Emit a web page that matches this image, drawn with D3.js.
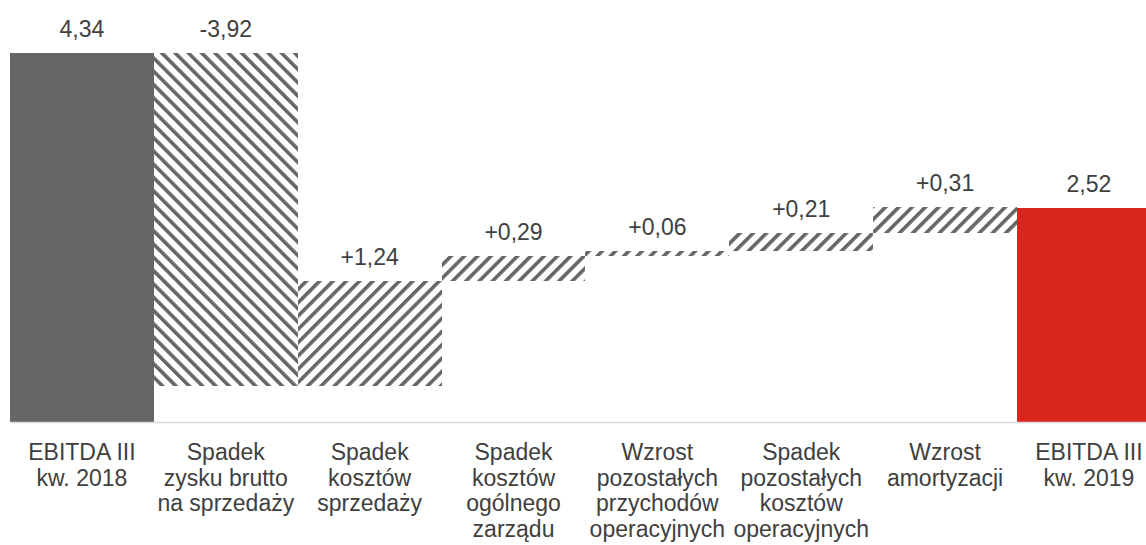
<!DOCTYPE html>
<html>
<head>
<meta charset="utf-8">
<script src="https://cdn.jsdelivr.net/npm/d3@7"></script>
<style>
  html, body { margin: 0; padding: 0; background: #ffffff; }
  svg { display: block; }
  text { font-family: "Liberation Sans", Arial, Helvetica, sans-serif; fill: #404040; }
</style>
</head>
<body>
<svg id="chart" width="1146" height="545"></svg>
<script>
// ---- data ----
const categories = [
  "EBITDA III\nkw. 2018",
  "Spadek\nzysku brutto\nna sprzedaży",
  "Spadek\nkosztów\nsprzedaży",
  "Spadek\nkosztów\nogólnego\nzarządu",
  "Wzrost\npozostałych\nprzychodów\noperacyjnych",
  "Spadek\npozostałych\nkosztów\noperacyjnych",
  "Wzrost\namortyzacji",
  "EBITDA III\nkw. 2019"
];
const values = [4.34, -3.92, 1.24, 0.29, 0.06, 0.21, 0.31, 2.52];
const kinds = ["total", "delta", "delta", "delta", "delta", "delta", "delta", "total"];
const valueLabels = ["4,34", "-3,92", "+1,24", "+0,29", "+0,06", "+0,21", "+0,31", "2,52"];

// ---- layout ----
const svg = d3.select("#chart");
const plotLeft = 10, bandW = 143.86;
const x = d3.scaleBand()
  .domain(categories.map((d, i) => i))
  .range([plotLeft, plotLeft + bandW * categories.length])
  .paddingInner(0).paddingOuter(0);
const y = d3.scaleLinear().domain([0, 4.34]).range([422, 53]);

// waterfall segments
let running = 0;
const segs = values.map((v, i) => {
  let lo, hi;
  if (kinds[i] === "total") { lo = 0; hi = v; running = v; }
  else { const start = running; running = start + v; lo = Math.min(start, running); hi = Math.max(start, running); }
  return { i, v, lo, hi, kind: kinds[i] };
});

// patterns
const defs = svg.append("defs");
function stripe(id, angle) {
  const p = defs.append("pattern")
    .attr("id", id)
    .attr("patternUnits", "userSpaceOnUse")
    .attr("width", 9.4).attr("height", 9.4)
    .attr("patternTransform", `rotate(${angle})`);
  p.append("rect").attr("width", 9.4).attr("height", 9.4).attr("fill", "#ffffff");
  p.append("rect").attr("x", 0).attr("width", 3.6).attr("height", 9.4).attr("fill", "#666666");
}
stripe("up", 45);
stripe("down", -45);

function fillFor(d) {
  if (d.kind === "total") return d.i === 0 ? "#666666" : "#da251d";
  return d.v < 0 ? "url(#down)" : "url(#up)";
}

// bars
svg.append("g").selectAll("rect")
  .data(segs)
  .join("rect")
  .attr("x", d => x(d.i))
  .attr("width", x.bandwidth())
  .attr("y", d => y(d.hi))
  .attr("height", d => y(d.lo) - y(d.hi))
  .attr("fill", fillFor)
  .attr("shape-rendering", "crispEdges");

// axis line
const xAxis = d3.axisBottom(x).tickSize(0).tickFormat("");
const ax = svg.append("g").attr("transform", `translate(0,${y(0)})`).call(xAxis);
ax.select(".domain").attr("stroke", "#d9d9d9").attr("stroke-width", 1.5);

// value labels
svg.append("g").selectAll("text")
  .data(segs)
  .join("text")
  .attr("x", d => x(d.i) + x.bandwidth() / 2)
  .attr("y", d => y(d.hi) - 16)
  .attr("text-anchor", "middle")
  .attr("font-size", 23)
  .text((d, i) => valueLabels[i]);

// category labels
const cat = svg.append("g").selectAll("text")
  .data(categories)
  .join("text")
  .attr("x", (d, i) => x(i) + x.bandwidth() / 2)
  .attr("y", 460)
  .attr("text-anchor", "middle")
  .attr("font-size", 23);
cat.each(function(d) {
  const t = d3.select(this);
  d.split("\n").forEach((line, k) => {
    t.append("tspan")
      .attr("x", t.attr("x"))
      .attr("dy", k === 0 ? 0 : 25.5)
      .text(line);
  });
});
</script>
</body>
</html>
